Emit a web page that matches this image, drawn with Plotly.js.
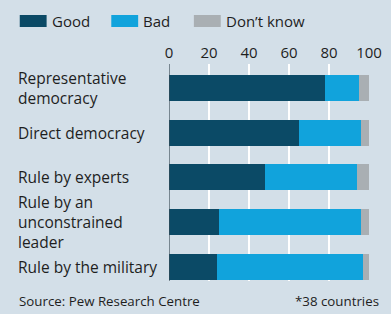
<!DOCTYPE html>
<html>
<head>
<meta charset="utf-8">
<script src="https://cdn.plot.ly/plotly-3.0.1.min.js"></script>
<style>
html,body{margin:0;padding:0;background:#d3dfe8;}
#chart{width:391px;height:314px;}
</style>
</head>
<body>
<div id="chart"></div>
<script>
const categories = ["Representative<br>democracy", "Direct democracy", "Rule by experts", "Rule by an<br>unconstrained<br>leader", "Rule by the military"];
const seriesNames = ["Good", "Bad", "Don\u2019t know"];
const good = [78, 65, 48, 25, 24];
const bad = [17, 31, 46, 71, 73];
const dontKnow = [5, 4, 6, 4, 3];
const xTicks = [0, 20, 40, 60, 80, 100];
const sourceText = "Source: Pew Research Centre";
const noteText = "*38 countries";

const colors = ["#0b4a66", "#11a3dc", "#a9afb3"];
const bg = "#d3dfe8";
const font = "Open Sans, sans-serif";
const textColor = "#1e1e1e";

const values = [good, bad, dontKnow];
const traces = values.map((v, i) => ({
  type: "bar",
  orientation: "h",
  y: categories.map((c, k) => k),
  x: v,
  name: seriesNames[i],
  marker: {color: colors[i], line: {width: 0}},
  hoverinfo: "skip"
}));

const annotations = [];
const shapes = [];
// category labels, left aligned
categories.forEach((c, k) => {
  annotations.push({
    xref: "paper", yref: "y",
    x: -0.762, y: k,
    xanchor: "left", yanchor: "middle", align: "left",
    text: c, showarrow: false, borderpad: 0,
    font: {family: font, size: 15.5, color: textColor}
  });
});
// legend built from series names
const legX = [19, 111, 194];
seriesNames.forEach((n, i) => {
  shapes.push({
    type: "rect", xref: "paper", yref: "paper",
    x0: (legX[i] - 169) / 201, x1: (legX[i] + 27 - 169) / 201,
    y0: (281 - 27) / 217, y1: (281 - 15) / 217,
    fillcolor: colors[i], line: {width: 0}
  });
  annotations.push({
    xref: "paper", yref: "paper",
    x: (legX[i] + 30 - 169) / 201, y: (281 - 21) / 217,
    xanchor: "left", yanchor: "middle",
    text: n, showarrow: false,
    font: {family: font, size: 15, color: textColor}
  });
});
annotations.push({
  xref: "paper", yref: "paper",
  x: (16 - 169) / 201, y: (281 - 301) / 217,
  xanchor: "left", yanchor: "middle",
  text: sourceText, showarrow: false,
  font: {family: font, size: 13.3, color: textColor}
});
annotations.push({
  xref: "paper", yref: "paper",
  x: (382 - 169) / 201, y: (281 - 301) / 217,
  xanchor: "right", yanchor: "middle",
  text: noteText, showarrow: false,
  font: {family: font, size: 13.3, color: textColor}
});

const layout = {
  width: 391, height: 314,
  paper_bgcolor: bg, plot_bgcolor: bg,
  margin: {l: 169, r: 22, t: 64, b: 33},
  barmode: "stack",
  bargap: 0.42,
  showlegend: false,
  xaxis: {
    side: "top", range: [0, 100], tickvals: xTicks,
    showgrid: true, gridcolor: "#ffffff", gridwidth: 2,
    zeroline: false, showline: false, ticks: "",
    tickfont: {family: font, size: 15, color: textColor},
    ticklabelstandoff: 2, fixedrange: true
  },
  yaxis: {
    range: [4.31, -0.53], showticklabels: false, showgrid: false,
    zeroline: false, showline: false, ticks: "", fixedrange: true
  },
  shapes: shapes.concat([{
    type: "line", xref: "x", yref: "paper", x0: 0, x1: 0, y0: 0, y1: 1,
    line: {color: "#3a4a55", width: 1.2}, layer: "above"
  }]),
  annotations: annotations
};
Plotly.newPlot("chart", traces, layout, {displayModeBar: false, staticPlot: true});
</script>
</body>
</html>
